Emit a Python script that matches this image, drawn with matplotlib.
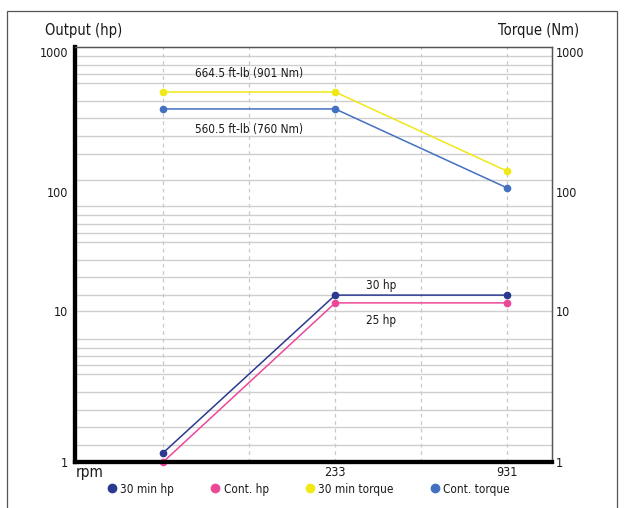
import numpy as np
import matplotlib
matplotlib.use("Agg")
import matplotlib.pyplot as plt
from matplotlib.lines import Line2D
from matplotlib.patches import Rectangle

plt.rcParams['font.family'] = ['DejaVu Sans']
plt.rcParams['font.stretch'] = 'condensed'

# ---- data ----
rpm = [58.2, 233, 931]
hp_30min = [1.15, 13.6, 13.6]
hp_cont = [1.0, 11.7, 11.7]
torque_30min = [518, 518, 141]
torque_cont = [392, 392, 107]

x_grid = [58.2, 116.4, 232.75, 465.5, 931]
x_tick_labels = ["", "", "233", "", "931"]
y_ticks = [1, 10, 100, 1000]
y_tick_labels = ["1", "10", "100", "1000"]
y_grid = [1.30, 1.71, 2.21, 2.91, 3.83, 4.39, 5.03, 5.69, 6.53, 10,
          13.6, 19.3, 26.8, 38.0, 45.2, 53.8, 64.1, 76.3, 122,
          187, 251, 338, 447, 601, 696, 807, 936]

series = [
    ("30 min hp", hp_30min, "#2b3990"),
    ("Cont. hp", hp_cont, "#ec4897"),
    ("30 min torque", torque_30min, "#f0e817"),
    ("Cont. torque", torque_cont, "#4470c2"),
]

# piecewise-log y scale (decades have unequal heights in the reference)
_L = np.array([-1, 0, 1, 2, 3, 4], dtype=float)
_H = np.array([-151, 0, 151, 270, 410, 550], dtype=float)

def fwd(v):
    v = np.asarray(v, dtype=float)
    lv = np.log10(np.clip(v, 1e-3, None))
    return np.interp(lv, _L, _H)

def inv(h):
    return 10 ** np.interp(np.asarray(h, dtype=float), _H, _L)

TXT = "#1a1a1a"

fig = plt.figure(figsize=(6.24, 5.08), dpi=100)
ax = fig.add_axes([75 / 624, 46 / 508, 477 / 624, 415 / 508])

ax.set_xscale('log', base=2)
ax.set_xlim(28.6, 1338)
ax.set_yscale('function', functions=(fwd, inv))
ax.set_ylim(1, 10 ** (3 + 5 / 140))

for y in y_grid:
    ax.axhline(y, color="#cfcfcf", lw=1.0, zorder=1)
for x in x_grid:
    ax.axvline(x, color="#c8c8c8", lw=0.9, ls=(0, (3, 3)), zorder=1)

for name, vals, col in series:
    ax.plot(rpm, vals, color=col, lw=1.1, marker='o', markersize=4.5, zorder=3,
            clip_on=False)

ax.annotate("664.5 ft-lb (901 Nm)", xy=(np.sqrt(rpm[0] * rpm[1]), torque_30min[0]),
            xytext=(0, 18), textcoords='offset pixels', ha='center', va='center',
            fontsize=8.5, color=TXT)
ax.annotate("560.5 ft-lb (760 Nm)", xy=(np.sqrt(rpm[0] * rpm[1]), torque_cont[0]),
            xytext=(0, -21), textcoords='offset pixels', ha='center', va='center',
            fontsize=8.5, color=TXT)
ax.annotate("30 hp", xy=(rpm[1], hp_30min[1]),
            xytext=(46, 10), textcoords='offset pixels', ha='center', va='center',
            fontsize=8.5, color=TXT)
ax.annotate("25 hp", xy=(rpm[1], hp_cont[1]),
            xytext=(46, -18), textcoords='offset pixels', ha='center', va='center',
            fontsize=8.5, color=TXT)

ax.set_xticks(x_grid)
ax.set_xticklabels(x_tick_labels)
ax.xaxis.set_minor_locator(matplotlib.ticker.NullLocator())
ax.set_yticks(y_ticks)
ax.set_yticklabels(y_tick_labels)
ax.yaxis.set_minor_locator(matplotlib.ticker.NullLocator())
ax.tick_params(axis='both', length=0, labelsize=9, colors=TXT)
ax.tick_params(axis='x', pad=3)
ax.tick_params(axis='y', pad=5)

ax2 = ax.twinx()
ax2.set_yscale('function', functions=(fwd, inv))
ax2.set_ylim(ax.get_ylim())
ax2.set_yticks(y_ticks)
ax2.set_yticklabels(y_tick_labels)
ax2.yaxis.set_minor_locator(matplotlib.ticker.NullLocator())
ax2.tick_params(axis='y', length=0, labelsize=9, pad=3, colors=TXT)

for a in (ax, ax2):
    a.spines['left'].set_linewidth(3.0)
    a.spines['left'].set_color('black')
    a.spines['bottom'].set_linewidth(3.0)
    a.spines['bottom'].set_color('black')
    a.spines['top'].set_linewidth(0.9)
    a.spines['top'].set_color('#555555')
    a.spines['right'].set_linewidth(0.9)
    a.spines['right'].set_color('#555555')

fig.text(45 / 624, 1 - 30 / 508, "Output (hp)", ha='left', va='center', fontsize=10.5, color=TXT)
fig.text(579 / 624, 1 - 30 / 508, "Torque (Nm)", ha='right', va='center', fontsize=10.5, color=TXT)
fig.text(76 / 624, 1 - 472 / 508, "rpm", ha='left', va='center', fontsize=11, color=TXT)

handles = [Line2D([], [], ls='none', marker='o', markersize=6, color=c) for _, _, c in series]
labels = [n for n, _, _ in series]
fig.legend(handles, labels, loc='center', bbox_to_anchor=(308 / 624, 1 - 489 / 508), ncol=4,
           frameon=False, fontsize=8.5, handletextpad=0.2, columnspacing=3.0, handlelength=1.0,
           labelcolor=TXT)

fig.add_artist(Rectangle((7 / 624, -0.02), 610 / 624, 0.02 + (1 - 11 / 508),
                         transform=fig.transFigure, fill=False, edgecolor="#555555", lw=0.9))

fig.savefig("out.png", dpi=100)
